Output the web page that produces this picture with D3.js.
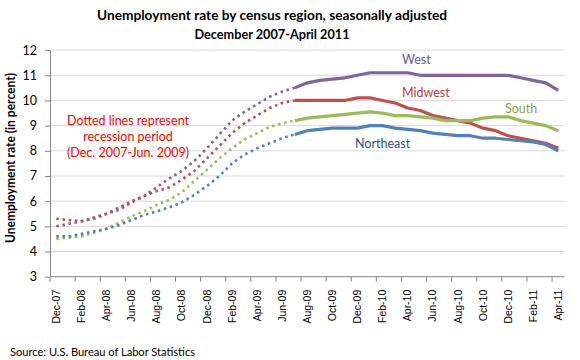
<!DOCTYPE html>
<html><head><meta charset="utf-8">
<script src="https://cdn.jsdelivr.net/npm/d3@7"></script>
<style>body{margin:0;background:#fff} svg{display:block}</style>
</head><body><svg id="c" width="580" height="360"></svg>
<script>
const months = ["Dec-07","Jan-08","Feb-08","Mar-08","Apr-08","May-08","Jun-08","Jul-08","Aug-08","Sep-08","Oct-08","Nov-08",
"Dec-08","Jan-09","Feb-09","Mar-09","Apr-09","May-09","Jun-09","Jul-09","Aug-09","Sep-09","Oct-09","Nov-09",
"Dec-09","Jan-10","Feb-10","Mar-10","Apr-10","May-10","Jun-10","Jul-10","Aug-10","Sep-10","Oct-10","Nov-10",
"Dec-10","Jan-11","Feb-11","Mar-11","Apr-11"];
const west = [5.0,5.1,5.2,5.35,5.5,5.65,5.95,6.2,6.55,6.9,7.2,7.6,8.1,8.65,9.2,9.55,9.85,10.15,10.35,10.5,
10.7,10.8,10.85,10.9,11.0,11.1,11.1,11.1,11.1,11.0,11.0,11.0,11.0,11.0,11.0,11.0,11.0,10.9,10.8,10.7,10.4];
const midwest = [5.3,5.25,5.2,5.3,5.5,5.75,6.0,6.2,6.4,6.55,6.85,7.2,7.7,8.2,8.7,9.1,9.4,9.7,9.9,10.0,
10.0,10.0,10.0,10.0,10.1,10.1,10.0,9.9,9.7,9.6,9.4,9.3,9.2,9.1,8.9,8.8,8.6,8.5,8.4,8.3,8.1];
const south = [4.5,4.55,4.6,4.75,4.9,5.15,5.4,5.6,5.85,6.05,6.35,6.8,7.25,7.7,8.1,8.45,8.7,8.95,9.1,9.2,
9.3,9.35,9.4,9.45,9.5,9.55,9.5,9.4,9.4,9.35,9.3,9.2,9.2,9.2,9.3,9.35,9.35,9.2,9.1,9.0,8.8];
const northeast = [4.6,4.6,4.7,4.8,4.9,5.05,5.25,5.45,5.6,5.75,5.95,6.25,6.6,7.0,7.5,7.85,8.1,8.3,8.5,8.65,
8.8,8.85,8.9,8.9,8.9,9.0,9.0,8.9,8.85,8.8,8.7,8.65,8.6,8.6,8.5,8.5,8.45,8.4,8.35,8.25,8.0];
const yTicks = [3,4,5,6,7,8,9,10,11,12];
const recessionLast = "Jul-09";
const titleLines = ["Unemployment rate by census region, seasonally adjusted","December 2007-April 2011"];
const noteLines = ["Dotted lines represent","recession period","(Dec. 2007-Jun. 2009)"];

const svg = d3.select("#c");
const L = 50, R = 564.6, T = 50.1, B = 276.7;
const x = d3.scaleBand().domain(months).range([L, R]).padding(0);
const y = d3.scaleLinear().domain([3, 12]).range([B, T]);
const cx = m => x(m) + x.bandwidth() / 2;
const font = "Lato, 'Open Sans', sans-serif";

// gridlines
svg.append("g").selectAll("line").data(yTicks.filter(v => v > 3)).join("line")
  .attr("x1", L).attr("x2", R).attr("y1", d => y(d)).attr("y2", d => y(d))
  .attr("stroke", "#d9d9d9").attr("stroke-width", 1);

// y axis
const ya = svg.append("g").attr("transform", `translate(${L},0)`)
  .call(d3.axisLeft(y).tickValues(yTicks).tickSize(5).tickSizeOuter(0).tickPadding(8));
ya.select(".domain").attr("stroke", "#868686");
ya.selectAll(".tick line").attr("stroke", "#868686");
ya.selectAll(".tick text").attr("font-family", font).attr("font-size", 12.5).attr("fill", "#000");

// x axis
const labelMonths = months.filter((m, i) => i % 2 === 0);
svg.append("line").attr("x1", L).attr("x2", R).attr("y1", B).attr("y2", B).attr("stroke", "#868686");
svg.append("g").selectAll("line").data(labelMonths).join("line")
  .attr("x1", d => x(d)).attr("x2", d => x(d)).attr("y1", B).attr("y2", B + 5).attr("stroke", "#868686");
svg.append("g").selectAll("text").data(labelMonths).join("text")
  .attr("transform", d => `translate(${cx(d)},${B + 13}) rotate(-90)`)
  .attr("text-anchor", "end").attr("dy", "0.35em")
  .attr("font-family", "'Liberation Sans', sans-serif").attr("font-size", 10.5).attr("fill", "#000")
  .text(d => d);

// series
const series = [
  {name: "West", values: west, color: "#8064A2", text: "#6a56a0", lx: 402, ly: 64},
  {name: "Midwest", values: midwest, color: "#C0504D", text: "#b8403d", lx: 402, ly: 97},
  {name: "South", values: south, color: "#9BBB59", text: "#8a9f3c", lx: 505, ly: 113},
  {name: "Northeast", values: northeast, color: "#4F81BD", text: "#2f4f8f", lx: 355, ly: 148}
];
const cut = months.indexOf(recessionLast);
const line = d3.line().x(d => cx(d.m)).y(d => y(d.v));
series.forEach(s => {
  const pts = s.values.map((v, i) => ({m: months[i], v}));
  svg.append("path").datum(pts.slice(0, cut + 1)).attr("d", line)
    .attr("fill", "none").attr("stroke", s.color).attr("stroke-width", 2.6)
    .attr("stroke-dasharray", "2.6 3.6");
  svg.append("path").datum(pts.slice(cut)).attr("d", line)
    .attr("fill", "none").attr("stroke", s.color).attr("stroke-width", 3.2)
    .attr("stroke-linejoin", "round");
  svg.append("text").attr("x", s.lx).attr("y", s.ly).attr("font-family", font)
    .attr("font-size", 12.5).attr("fill", s.text).text(s.name);
});

// title
svg.append("g").selectAll("text").data(titleLines).join("text")
  .attr("x", 272).attr("y", (d, i) => 19.5 + i * 19).attr("text-anchor", "middle")
  .attr("font-family", font).attr("font-weight", "bold").attr("font-size", 13.5).attr("fill", "#000")
  .attr("textLength", (d, i) => i === 0 ? 350 : 155).attr("lengthAdjust", "spacingAndGlyphs")
  .text(d => d);

// y label
svg.append("text").attr("transform", "translate(14.5,158) rotate(-90)").attr("text-anchor", "middle")
  .attr("font-family", font).attr("font-weight", "bold").attr("font-size", 12.5).attr("fill", "#000")
  .attr("textLength", 170).attr("lengthAdjust", "spacingAndGlyphs")
  .text("Unemployment rate (in percent)");

// note
svg.append("g").selectAll("text").data(noteLines).join("text")
  .attr("x", 128).attr("y", (d, i) => 124.5 + i * 16).attr("text-anchor", "middle")
  .attr("font-family", font).attr("font-size", 12.5).attr("fill", "#ff0000")
  .text(d => d);

// source
svg.append("text").attr("x", 10).attr("y", 356).attr("font-family", font).attr("font-size", 11.5)
  .attr("fill", "#000").attr("textLength", 185).attr("lengthAdjust", "spacingAndGlyphs")
  .text("Source: U.S. Bureau of Labor Statistics");
</script></body></html>
